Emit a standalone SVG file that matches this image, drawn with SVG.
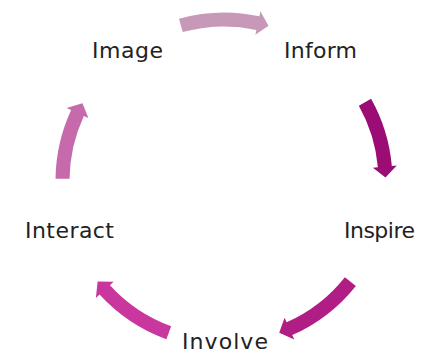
<svg xmlns="http://www.w3.org/2000/svg" xmlns:xlink="http://www.w3.org/1999/xlink" width="422" height="354" viewBox="0 0 422 354">
  <style>
    .label { font-family: "DejaVu Sans", "Liberation Sans", sans-serif; font-size: 22px; fill: #222222; }
  </style>
  <defs>
    <!-- curved arrow segments, drawn around the origin starting at angle 0 -->
    <path id="arcLong" d="M168.5,0 A168.5,168.5 0 0 1 149.32,78.07 L153.76,80.38 L137.70,84.38 L132.49,69.26 L136.92,71.58 A154.5,154.5 0 0 0 154.5,0 Z"/>
    <path id="arcShort" d="M168.5,0 A168.5,168.5 0 0 1 153.81,68.80 L158.38,70.85 L142.60,75.82 L136.47,61.05 L141.03,63.09 A154.5,154.5 0 0 0 154.5,0 Z"/>
  </defs>

  <rect width="422" height="354" fill="#ffffff"/>

  <g id="connectors">
    <use id="image-to-inform" xlink:href="#arcLong" href="#arcLong" transform="translate(224,181) rotate(-105.5)" fill="#C898B9"/>
    <use id="inform-to-inspire" xlink:href="#arcShort" href="#arcShort" transform="translate(224,181) rotate(-29.2)" fill="#9B0D74"/>
    <use id="inspire-to-involve" xlink:href="#arcLong" href="#arcLong" transform="translate(224,181) rotate(38.5)" fill="#B01D84"/>
    <use id="involve-to-interact" xlink:href="#arcLong" href="#arcLong" transform="translate(224,181) rotate(110)" fill="#C9369D"/>
    <use id="interact-to-image" xlink:href="#arcShort" href="#arcShort" transform="translate(224,181) rotate(180.8)" fill="#C66AAC"/>
  </g>

  <g id="image">
    <text class="label" x="92" y="58" textLength="71">Image</text>
  </g>
  <g id="inform">
    <text class="label" x="284" y="58" textLength="73">Inform</text>
  </g>
  <g id="inspire">
    <text class="label" x="344" y="238" textLength="71">Inspire</text>
  </g>
  <g id="involve">
    <text class="label" x="182" y="349" textLength="86">Involve</text>
  </g>
  <g id="interact">
    <text class="label" x="25" y="238" textLength="89">Interact</text>
  </g>
</svg>
